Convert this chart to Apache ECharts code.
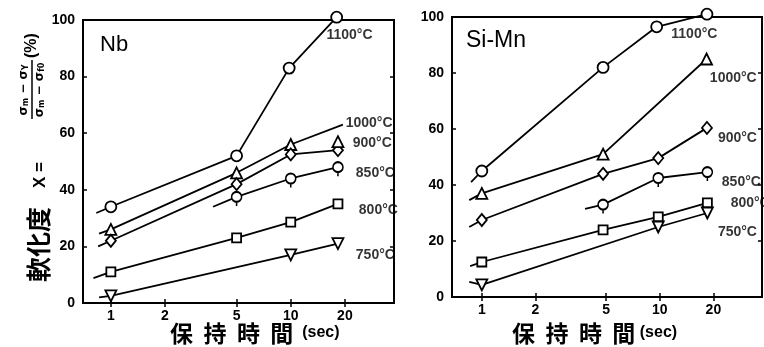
<!DOCTYPE html>
<html><head><meta charset="utf-8">
<script src="https://cdn.jsdelivr.net/npm/echarts@6/dist/echarts.min.js"></script>
<style>html,body{margin:0;padding:0;background:#fff}#c{width:764px;height:347px}</style>
</head><body><div id="c"></div><script>
// ---- data (holding time in sec, softening ratio %) ----
const xTickValues = [1, 2, 5, 10, 20];
const yTickInterval = 20;

// Nb panel
const nb1100 = [[1, 34], [5, 52], [9.8, 83], [18, 101]];
const nb1100Lead = [[0.83, 31.8]];
const nb1000 = [[1, 26], [5, 46], [10, 56]];
const nb1000Lead = [[0.86, 24.5]];
const nb1000Tail = [[19.5, 63]];
const nb1000Extra = [[18.3, 57]];
const nb900 = [[1, 22], [5, 42], [10, 52.5], [18.3, 54]];
const nb900Lead = [[0.85, 20]];
const nb850 = [[5, 37.5], [10, 44], [18.3, 48]];
const nb850Lead = [[3.7, 34]];
const nb800 = [[1, 11], [5, 23], [10, 28.6], [18.3, 35]];
const nb800Lead = [[0.8, 8.8]];
const nb750 = [[1, 2.5], [10, 17], [18.3, 21]];
const nb750Lead = [[0.86, 2]];

// Si-Mn panel
const sm1100 = [[1, 45], [4.8, 82], [9.6, 96.5], [18.4, 101]];
const sm1100Lead = [[0.87, 41]];
const sm1000 = [[1, 37], [4.8, 51], [18.3, 85]];
const sm1000Lead = [[0.85, 34.6]];
const sm900 = [[1, 27.5], [4.8, 44], [9.8, 49.6], [18.4, 60.4]];
const sm900Lead = [[0.85, 25]];
const sm850 = [[4.8, 33], [9.8, 42.5], [18.5, 44.6]];
const sm850Lead = [[3.8, 31.5]];
const sm800 = [[1, 12.5], [4.8, 24], [9.8, 28.6], [18.5, 33.6]];
const sm800Lead = [[0.86, 11]];
const sm750 = [[1, 4.3], [9.8, 25], [18.5, 30]];
const sm750Lead = [[0.85, 5.4]];

// temperature labels
const tempLabels = ['1100°C', '1000°C', '900°C', '850°C', '800°C', '750°C'];
const nbLabelPos = [[15.8, 94.5], [20.2, 63.6], [22.1, 56.5], [23, 46], [23.9, 32.9], [23, 17]];
const smLabelPos = [[11.6, 93.8], [19.1, 78.2], [21.2, 56.8], [22.3, 41], [25, 33.6], [21.2, 23.2]];

// ---- styling ----
const circleTail = 'path://M0,5 A5,5 0 1,1 10,5 A5,5 0 1,1 0,5 Z M5,10 L5,14';
const marks = {
  '1100': {symbol: 'circle', symbolSize: 11},
  '1000': {symbol: 'triangle', symbolSize: 11},
  '900': {symbol: 'diamond', symbolSize: [10, 12]},
  '850': {symbol: circleTail, symbolSize: [10, 14], symbolOffset: [0, 2]},
  '800': {symbol: 'rect', symbolSize: 9},
  '750': {symbol: 'triangle', symbolSize: 11, symbolRotate: 180}
};
const itemSt = {color: '#fff', borderColor: '#000', borderWidth: 1.8, opacity: 1};

const series = [];
function addCurve(idx, key, pts, lead, tail) {
  const data = [];
  (lead || []).forEach(p => data.push({value: p, symbol: 'none'}));
  pts.forEach(p => data.push({value: p}));
  (tail || []).forEach(p => data.push({value: p, symbol: 'none'}));
  series.push(Object.assign({
    type: 'line', xAxisIndex: idx, yAxisIndex: idx, data: data,
    clip: false, animation: false, z: 3,
    lineStyle: {color: '#000', width: 1.8},
    itemStyle: itemSt
  }, marks[key]));
}
function addMarks(idx, key, pts) {
  series.push(Object.assign({
    type: 'scatter', xAxisIndex: idx, yAxisIndex: idx, data: pts,
    clip: false, animation: false, z: 4, itemStyle: itemSt
  }, marks[key]));
}
function addLabels(idx, pos) {
  series.push({
    type: 'scatter', xAxisIndex: idx, yAxisIndex: idx, clip: false, animation: false,
    symbolSize: 0, silent: true, z: 5,
    data: pos.map((p, i) => ({name: tempLabels[i], value: p})),
    label: {show: true, position: 'right', distance: 0, formatter: '{b}',
      color: '#000', fontFamily: 'Liberation Sans', fontWeight: 'bold', fontSize: 14}
  });
}

addCurve(0, '1100', nb1100, nb1100Lead);
addCurve(0, '1000', nb1000, nb1000Lead, nb1000Tail);
addMarks(0, '1000', nb1000Extra);
addCurve(0, '900', nb900, nb900Lead);
addCurve(0, '850', nb850, nb850Lead);
addCurve(0, '800', nb800, nb800Lead);
addCurve(0, '750', nb750, nb750Lead);
addLabels(0, nbLabelPos);

addCurve(1, '1100', sm1100, sm1100Lead);
addCurve(1, '1000', sm1000, sm1000Lead);
addCurve(1, '900', sm900, sm900Lead);
addCurve(1, '850', sm850, sm850Lead);
addCurve(1, '800', sm800, sm800Lead);
addCurve(1, '750', sm750, sm750Lead);
addLabels(1, smLabelPos);

const tickFont = {color: '#000', fontFamily: 'Liberation Sans', fontWeight: 'bold', fontSize: 14};
function xAx(gi, xmin, pos, showLabel) {
  return {
    type: 'log', logBase: 10, gridIndex: gi, min: xmin, max: 37.5, position: pos,
    axisLine: {show: false}, splitLine: {show: false}, minorTick: {show: false},
    axisTick: {show: true, inside: true, length: 4, customValues: xTickValues,
      lineStyle: {color: '#000', width: 1.5}},
    axisLabel: Object.assign({show: showLabel, customValues: xTickValues, margin: 6}, tickFont)
  };
}
function yAx(gi, pos, showLabel) {
  return {
    type: 'value', gridIndex: gi, min: 0, max: 100, interval: yTickInterval, position: pos,
    axisLine: {show: false}, splitLine: {show: false},
    axisTick: {show: true, inside: true, length: 4, lineStyle: {color: '#000', width: 1.5}},
    axisLabel: Object.assign({show: showLabel, margin: 8}, tickFont)
  };
}

const xNameRich = {a: {font: 'bold 23px "Noto Sans CJK JP"', fill: '#000'}, b: {font: 'bold 16px "Liberation Sans"', fill: '#000'}};
const fracRich = {s: {font: 'bold 12px "DejaVu Sans"', fill: '#000'}, b: {font: 'bold 8px "DejaVu Sans"', fill: '#000', verticalAlign: 'bottom'}};

const option = {
  backgroundColor: '#fff',
  animation: false,
  grid: [
    {left: 83, right: 370, top: 20, bottom: 44, show: true, borderColor: '#000', borderWidth: 2, backgroundColor: 'transparent'},
    {left: 452, right: 2, top: 17, bottom: 50, show: true, borderColor: '#000', borderWidth: 2, backgroundColor: 'transparent'}
  ],
  xAxis: [xAx(0, 0.7, 'bottom', true), xAx(1, 0.68, 'bottom', true), xAx(0, 0.7, 'top', false), xAx(1, 0.68, 'top', false)],
  yAxis: [yAx(0, 'left', true), yAx(1, 'left', true), yAx(0, 'right', false), yAx(1, 'right', false)],
  series: series,
  graphic: [
    {type: 'text', left: 100, top: 34, style: {text: 'Nb', font: '22px "Liberation Sans"', fill: '#000'}},
    {type: 'text', left: 466, top: 29, style: {text: 'Si-Mn', font: '23px "Liberation Sans"', fill: '#000'}},
    {type: 'text', x: 170, y: 333, style: {text: '{a|保  持  時  間}{b|  (sec)}', align: 'left', verticalAlign: 'middle', rich: xNameRich}},
    {type: 'text', x: 512, y: 333, style: {text: '{a|保  持  時  間}{b| (sec)}', align: 'left', verticalAlign: 'middle', rich: xNameRich}},
    {type: 'group', x: 20, y: 300, rotation: Math.PI / 2, children: [
      {type: 'text', x: 18, y: 18, style: {text: '軟化度', font: 'bold 25px "Noto Sans CJK JP"', fill: '#000', verticalAlign: 'middle'}},
      {type: 'text', x: 112, y: 20, style: {text: 'X =', font: 'bold 17px "Liberation Sans"', fill: '#000', verticalAlign: 'middle'}},
      {type: 'text', x: 210, y: 4, style: {text: '{s|σ}{b|m}{s| − σ}{b|Y}', align: 'center', verticalAlign: 'middle', rich: fracRich}},
      {type: 'line', shape: {x1: 181, y1: 12, x2: 240, y2: 12}, style: {stroke: '#000', lineWidth: 1.5}},
      {type: 'text', x: 210, y: 20, style: {text: '{s|σ}{b|m}{s| − σ}{b|f0}', align: 'center', verticalAlign: 'middle', rich: fracRich}},
      {type: 'text', x: 242, y: 12, style: {text: '(%)', font: 'bold 16px "Liberation Sans"', fill: '#000', verticalAlign: 'middle'}}
    ]}
  ]
};
const chart = echarts.init(document.getElementById('c'), null, {renderer: 'canvas'});
chart.setOption(option);
</script></body></html>
